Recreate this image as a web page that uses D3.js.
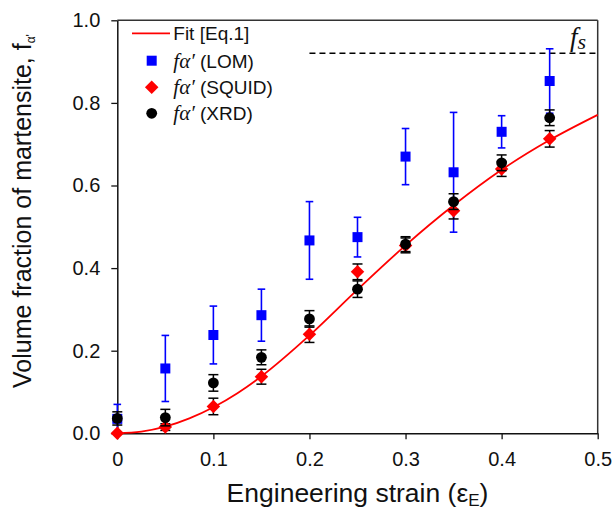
<!DOCTYPE html>
<html>
<head>
<meta charset="utf-8">
<script src="https://cdn.jsdelivr.net/npm/d3@7"></script>
<style>
  html, body { margin: 0; padding: 0; background: #fff; }
  svg { display: block; }
  text { font-family: "Liberation Sans", Arial, sans-serif; }
</style>
</head>
<body>
<svg id="chart" width="612" height="511"></svg>
<script>
// ---- data ----
const strain = [0, 0.05, 0.1, 0.15, 0.2, 0.25, 0.3, 0.35, 0.4, 0.45];
const lomValues  = [0.035, 0.157, 0.238, 0.286, 0.467, 0.475, 0.670, 0.632, 0.730, 0.853];
const lomErrors  = [0.035, 0.080, 0.070, 0.063, 0.094, 0.048, 0.068, 0.145, 0.039, 0.078];
const squidValues = [0.000, 0.015, 0.065, 0.137, 0.240, 0.391, 0.455, 0.539, 0.640, 0.713];
const squidErrors = [0.000, 0.008, 0.020, 0.018, 0.020, 0.019, 0.018, 0.020, 0.018, 0.020];
const xrdValues  = [0.036, 0.038, 0.122, 0.184, 0.277, 0.349, 0.458, 0.561, 0.655, 0.764];
const xrdErrors  = [0.016, 0.020, 0.020, 0.018, 0.020, 0.020, 0.018, 0.019, 0.019, 0.019];
// fit curve [Eq.1]
const fitStrain = [0, 0.025, 0.05, 0.075, 0.1, 0.125, 0.15, 0.2, 0.25, 0.3, 0.35, 0.4, 0.45, 0.5];
const fitValues = [0, 0.004, 0.016, 0.036, 0.063, 0.097, 0.138, 0.237, 0.348, 0.455, 0.552, 0.638, 0.710, 0.771];
// saturation level f_s
const fsValue = 0.92;
const fsRange = [0.2, 0.5];
// ticks
const xTickValues = [0, 0.1, 0.2, 0.3, 0.4, 0.5];
const xTickLabels = ["0", "0.1", "0.2", "0.3", "0.4", "0.5"];
const yTickValues = [0, 0.2, 0.4, 0.6, 0.8, 1.0];
const yTickLabels = ["0.0", "0.2", "0.4", "0.6", "0.8", "1.0"];
const legendLabels = ["Fit [Eq.1]", "(LOM)", "(SQUID)", "(XRD)"];

// ---- layout ----
const svg = d3.select("#chart");
const x = d3.scaleLinear().domain([0, 0.5]).range([117.3, 597.7]);
const y = d3.scaleLinear().domain([0, 1]).range([433.3, 20.3]);

const BLUE = "#0000ff", RED = "#ff0000", BLACK = "#000";

// frame (top & right)
svg.append("line").attr("x1", x(0)).attr("x2", x(0.5)).attr("y1", y(1)).attr("y2", y(1))
  .attr("stroke", "#333").attr("stroke-width", 1.5);
svg.append("line").attr("x1", x(0.5)).attr("x2", x(0.5)).attr("y1", y(1)).attr("y2", y(0))
  .attr("stroke", "#333").attr("stroke-width", 1.5);

// axes
const xAxis = svg.append("g").attr("transform", `translate(0,${y(0)})`)
  .call(d3.axisBottom(x).tickValues(xTickValues).tickFormat((d, i) => xTickLabels[i])
    .tickSize(6).tickSizeOuter(0).tickPadding(12.5));
const yAxis = svg.append("g").attr("transform", `translate(${x(0)},0)`)
  .call(d3.axisLeft(y).tickValues(yTickValues).tickFormat((d, i) => yTickLabels[i])
    .tickSize(6).tickSizeOuter(0).tickPadding(11));
[xAxis, yAxis].forEach(g => {
  g.select(".domain").attr("stroke", "#111").attr("stroke-width", 1.5);
  g.selectAll(".tick line").attr("stroke", "#111").attr("stroke-width", 1.3);
  g.selectAll(".tick text").attr("fill", "#111")
    .style("font-family", '"Liberation Sans", Arial, sans-serif').style("font-size", "20px");
});

// axis titles
svg.append("text").attr("x", 357.5).attr("y", 502).attr("text-anchor", "middle")
  .style("font-size", "26.5px").attr("fill", "#111")
  .call(t => {
    t.append("tspan").text("Engineering strain (ε");
    t.append("tspan").attr("dy", 4).style("font-size", "17px").text("E");
    t.append("tspan").attr("dy", -4).text(")");
  });
svg.append("text").attr("transform", "translate(31,211) rotate(-90)").attr("text-anchor", "middle")
  .style("font-size", "25px").attr("fill", "#111")
  .call(t => {
    t.append("tspan").text("Volume fraction of martensite, f");
    t.append("tspan").attr("dy", 4).style("font-size", "12px").text("α'");
  });

// fs dashed line
svg.append("line").attr("x1", x(fsRange[0])).attr("x2", x(fsRange[1]))
  .attr("y1", y(fsValue)).attr("y2", y(fsValue))
  .attr("stroke", "#000").attr("stroke-width", 1.5).attr("stroke-dasharray", "6,4");
svg.append("text").attr("x", 570).attr("y", 46)
  .style("font-family", '"Liberation Serif", "DejaVu Serif", serif').style("font-style", "italic")
  .style("font-size", "27px").attr("fill", "#111")
  .call(t => {
    t.append("tspan").text("f");
    t.append("tspan").attr("dy", 3).style("font-size", "22px").text("s");
  });

// fit curve
const line = d3.line().x((d, i) => x(fitStrain[i])).y(d => y(d)).curve(d3.curveMonotoneX);
svg.append("path").datum(fitValues).attr("d", line)
  .attr("fill", "none").attr("stroke", RED).attr("stroke-width", 1.8);

// error bars helper
function errorBars(vals, errs, color, capHalf, width) {
  const g = svg.append("g").attr("stroke", color).attr("stroke-width", width);
  strain.forEach((s, i) => {
    if (errs[i] <= 0) return;
    const cx = x(s), y1 = y(vals[i] - errs[i]), y2 = y(vals[i] + errs[i]);
    g.append("line").attr("x1", cx).attr("x2", cx).attr("y1", y1).attr("y2", y2);
    g.append("line").attr("x1", cx - capHalf).attr("x2", cx + capHalf).attr("y1", y1).attr("y2", y1);
    g.append("line").attr("x1", cx - capHalf).attr("x2", cx + capHalf).attr("y1", y2).attr("y2", y2);
  });
}

const sqSize = 10, dmSize = 12.5, cR = 5.4;
// LOM
errorBars(lomValues, lomErrors, BLUE, 3.8, 1.6);
svg.append("g").selectAll("rect").data(lomValues).join("rect")
  .attr("x", (d, i) => x(strain[i]) - sqSize / 2).attr("y", d => y(d) - sqSize / 2)
  .attr("width", sqSize).attr("height", sqSize).attr("fill", BLUE);
// SQUID
errorBars(squidValues, squidErrors, BLACK, 5, 1.5);
svg.append("g").selectAll("path").data(squidValues).join("path")
  .attr("d", (d, i) => {
    const cx = x(strain[i]), cy = y(d), h = dmSize / 2 + 0.5;
    return `M${cx},${cy - h}L${cx + h},${cy}L${cx},${cy + h}L${cx - h},${cy}Z`;
  }).attr("fill", RED);
// XRD
errorBars(xrdValues, xrdErrors, BLACK, 5, 1.5);
svg.append("g").selectAll("circle").data(xrdValues).join("circle")
  .attr("cx", (d, i) => x(strain[i])).attr("cy", d => y(d)).attr("r", cR).attr("fill", BLACK);

// legend
const lg = svg.append("g");
const lx = 151.7, tx = 173.3;
const rows = [33.3, 60.7, 87.3, 113.3];
lg.append("line").attr("x1", 132).attr("x2", 170).attr("y1", rows[0]).attr("y2", rows[0])
  .attr("stroke", RED).attr("stroke-width", 1.8);
lg.append("rect").attr("x", lx - sqSize / 2).attr("y", rows[1] - sqSize / 2)
  .attr("width", sqSize).attr("height", sqSize).attr("fill", BLUE);
{
  const h = dmSize / 2 + 0.5, cx = lx, cy = rows[2];
  lg.append("path").attr("d", `M${cx},${cy - h}L${cx + h},${cy}L${cx},${cy + h}L${cx - h},${cy}Z`).attr("fill", RED);
}
lg.append("circle").attr("cx", lx).attr("cy", rows[3]).attr("r", cR).attr("fill", BLACK);
rows.forEach((ry, i) => {
  const t = lg.append("text").attr("x", tx).attr("y", ry + 7).attr("fill", "#111").style("font-size", "19px");
  if (i === 0) {
    t.text(legendLabels[0]);
  } else {
    t.append("tspan").style("font-family", '"Liberation Serif", "DejaVu Serif", serif')
      .style("font-style", "italic").style("font-size", "21px").text("fα′");
    t.append("tspan").text(" " + legendLabels[i]);
  }
});
</script>
</body>
</html>
